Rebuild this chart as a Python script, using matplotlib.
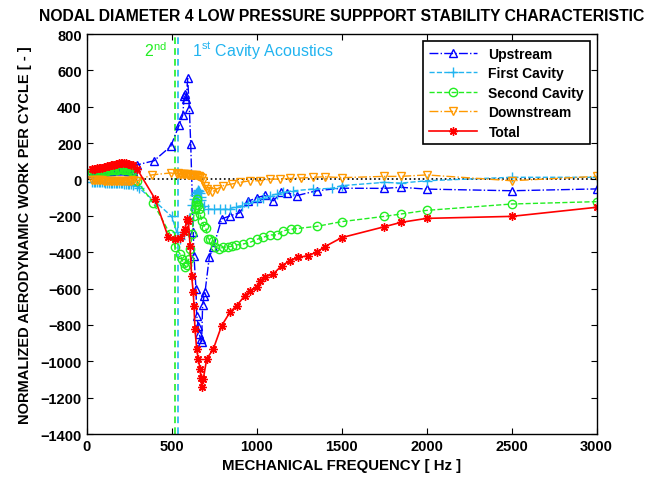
import matplotlib
matplotlib.use('Agg')
import matplotlib.pyplot as plt

plt.rcParams['font.family'] = ['Liberation Sans', 'DejaVu Sans']
plt.rcParams['mathtext.fontset'] = 'custom'
plt.rcParams['mathtext.rm'] = 'Liberation Sans'

# low frequency sweep shared by all five curves
f_low = [30, 40, 50, 60, 70, 80, 90, 100, 110, 120, 130, 140, 150, 160, 170, 180, 190, 200, 210, 220,
         230, 240, 250, 260, 270]

# upstream
f_up = f_low + [295, 396, 494, 545, 565, 574, 578, 585, 594, 604, 612, 627, 631, 643, 647, 656, 662, 670, 676,
                682, 690, 696, 721, 745, 794, 843, 898, 951, 1000, 1049, 1098, 1146, 1176, 1235, 1353, 1500, 1751,
                1849, 2000, 2500, 3000]
w_up = [35, 36, 38, 39, 40, 41, 42, 44, 45, 45, 46, 48, 50, 52, 53, 52, 50, 52, 53, 52,
        50, 49, 48, 47, 45] + \
       [80, 103, 182, 301, 354, 461, 470, 440, 556, 387, 195, -291, -419, -602, -749, -804, -850, -878, -892,
        -690, -643, -621, -428, -373, -217, -200, -184, -120, -100, -88, -117, -71, -72, -89, -62, -48, -49,
        -43, -53, -62, -52]

# first cavity
f_fc = f_low + [295, 310, 400, 500, 530, 548, 575, 600, 620, 630, 640, 645, 650, 654, 657, 661, 665, 670, 675,
                690, 715, 750, 784, 815, 843, 880, 911, 950, 1000, 1040, 1078, 1120, 1157, 1216, 1333, 1441, 1500,
                1751, 1849, 2000, 2500, 3000]
w_fc = [-12, -13, -14, -14, -15, -15, -15, -16, -17, -17, -18, -19, -20, -20, -20, -21, -22, -22, -22, -23,
        -24, -24, -25, -26, -28] + \
       [-38, -49, -120, -203, -290, -330, -300, -220, -140, -110, -85, -75, -68, -62, -58, -62, -75, -95, -115,
        -145, -163, -165, -163, -165, -160, -150, -144, -130, -117, -100, -89, -80, -71, -62, -53, -49, -34,
        -16, -20, -7, 12, 12]

# second cavity
f_sc = f_low + [294, 392, 490, 520, 549, 560, 570, 580, 590, 600, 610, 620, 630, 637, 641, 645, 650, 655, 660,
                667, 676, 690, 700, 715, 725, 745, 755, 780, 804, 830, 853, 880, 921, 961, 1000, 1039, 1078, 1118,
                1157, 1200, 1235, 1353, 1500, 1751, 1849, 2000, 2500, 3000]
w_sc = [40, 41, 42, 43, 45, 45, 45, 46, 48, 49, 50, 50, 50, 51, 52, 53, 55, 55, 55, 54,
        52, 51, 50, 48, 45] + \
       [-6, -130, -300, -370, -410, -440, -460, -480, -470, -440, -380, -300, -200, -163, -140, -126, -110, -140, -165,
        -190, -227, -254, -265, -327, -330, -337, -373, -380, -373, -370, -368, -360, -355, -346, -330, -318, -305, -305,
        -282, -275, -270, -258, -232, -203, -190, -170, -135, -122]

# downstream
f_dn = f_low + [298, 382, 494, 529, 540, 548, 556, 564, 572, 580, 588, 596, 604, 612, 620, 628, 636, 644, 652,
                660, 668, 676, 686, 696, 706, 715, 735, 765, 804, 853, 902, 961, 1020, 1078, 1137, 1196, 1260, 1333,
                1400, 1500, 1751, 1849, 2000, 2500, 3000]
w_dn = [-2, -3, -4, -4, -5, -5, -5, -6, -6, -7, -8, -8, -8, -8, -8, -8, -8, -8, -8, -8,
        -7, -7, -6, -6, -5] + \
       [-7, 25, 36, 30, 35, 32, 30, 30, 29, 28, 28, 27, 26, 25, 25, 25, 24, 22, 20,
        18, 15, 10, -10, -34, -50, -62, -71, -53, -34, -25, -16, -7, -7, 2, 2, 6, 8, 12,
        15, 10, 17, 17, 25, -7, 17]

# total
f_tot = f_low + [298, 402, 480, 520, 549, 570, 580, 588, 598, 608, 617, 627, 631, 637, 647, 656, 667, 672, 676,
                 686, 706, 745, 794, 843, 882, 931, 961, 1000, 1020, 1049, 1098, 1147, 1196, 1245, 1300, 1353, 1400,
                 1500, 1751, 1849, 2000, 2500, 3000]
w_tot = [55, 58, 60, 61, 62, 64, 65, 68, 70, 72, 75, 78, 80, 82, 85, 86, 88, 89, 90, 89,
         88, 86, 85, 82, 80] + \
        [55, -107, -318, -327, -320, -290, -272, -215, -230, -364, -529, -621, -694, -822, -933, -987, -1040, -1090, -1140,
         -1097, -987, -932, -804, -730, -694, -639, -612, -593, -557, -535, -520, -474, -447, -428, -420, -400, -370,
         -320, -260, -236, -214, -203, -153]

# cavity acoustic resonances
f_second = 519
f_first = 538

c_up = '#0000ff'
c_fc = '#22b4f0'
c_sc = '#22ee22'
c_dn = '#ff9900'
c_tot = '#ff0000'

fig = plt.figure(figsize=(6.57, 4.81), dpi=100)
ax = fig.add_axes([0.132, 0.0956, 0.776, 0.8316])

ax.axvline(f_second, color=c_sc, ls=(0, (4, 2.5)), lw=1.2)
ax.axvline(f_first, color=c_fc, ls=(0, (4, 2.5)), lw=1.2)
ax.axhline(0, color='k', ls=':', lw=1.2)

ax.plot(f_up, w_up, '-.', color=c_up, marker='^', mfc='none', ms=6, lw=1, label='Upstream')
ax.plot(f_fc, w_fc, '--', color=c_fc, marker='+', ms=7, lw=1, label='First Cavity')
ax.plot(f_sc, w_sc, '--', color=c_sc, marker='o', mfc='none', ms=6, lw=1, label='Second Cavity')
ax.plot(f_dn, w_dn, '-.', color=c_dn, marker='v', mfc='none', ms=6, lw=1, label='Downstream')
ax.plot(f_tot, w_tot, '-', color=c_tot, marker=(8, 2, 0), ms=6, lw=1.2, label='Total')

ax.text(470, 715, '2$^{\\rm nd}$', color=c_sc, fontsize=11.5, ha='right', va='center')
ax.text(620, 715, '1$^{\\rm st}$ Cavity Acoustics', color=c_fc, fontsize=11.5, ha='left', va='center')

ax.set_xlim(0, 3000)
ax.set_ylim(-1400, 800)
ax.set_xticks([0, 500, 1000, 1500, 2000, 2500, 3000])
ax.set_yticks(range(-1400, 801, 200))
ax.tick_params(direction='in', top=True, right=True, length=4, labelsize=10.5)
for lab in ax.get_xticklabels() + ax.get_yticklabels():
    lab.set_fontweight('bold')
for s in ax.spines.values():
    s.set_linewidth(1)

ax.set_title('NODAL DIAMETER 4 LOW PRESSURE SUPPPORT STABILITY CHARACTERISTIC',
             fontsize=11.3, fontweight='bold', pad=10)
ax.set_xlabel('MECHANICAL FREQUENCY [ Hz ]', fontsize=10.8, fontweight='bold', labelpad=4)
ax.set_ylabel('NORMALIZED AERODYNAMIC WORK PER CYCLE [ - ]', fontsize=10.5, fontweight='bold', labelpad=6)

leg = ax.legend(loc='upper right', fontsize=10, fancybox=False, edgecolor='k',
                framealpha=1, handlelength=3.5, labelspacing=0.4, borderaxespad=0.5)
leg.get_frame().set_linewidth(1.2)
for t in leg.get_texts():
    t.set_fontweight('bold')

fig.savefig('out.png', dpi=100)
